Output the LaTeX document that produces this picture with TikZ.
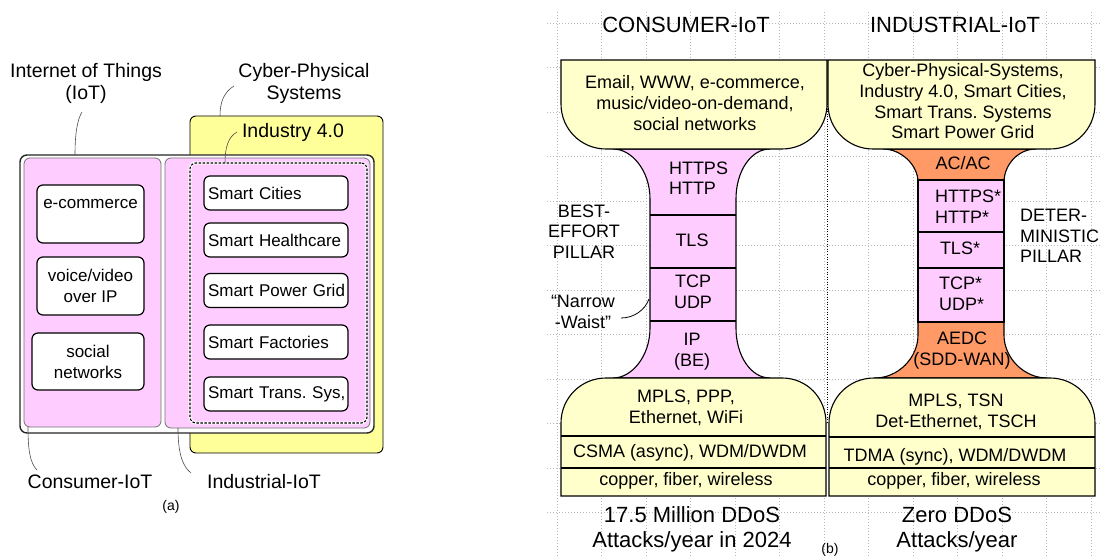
\documentclass[tikz,border=0pt]{standalone}
\usepackage{fontspec}
\setmainfont{Liberation Sans}
\frenchspacing
\definecolor{cyellow}{RGB}{255,255,204}
\definecolor{cpsyellow}{RGB}{255,255,153}
\definecolor{cpink}{RGB}{255,204,255}
\definecolor{corange}{RGB}{255,153,102}
\definecolor{gridgray}{RGB}{185,185,185}
\newcommand{\szS}{\fontsize{17}{21}\selectfont}
\newcommand{\szM}{\fontsize{18}{20.7}\selectfont}
\newcommand{\szL}{\fontsize{19.5}{22}\selectfont}
\newcommand{\szXL}{\fontsize{22}{25}\selectfont}
\newcommand{\szT}{\fontsize{14}{16}\selectfont}
\begin{document}
\begin{tikzpicture}[x=1pt,y=-1pt,
  every node/.style={inner sep=0pt,outer sep=0pt},
  lab/.style={anchor=base,align=center},
  labl/.style={anchor=base west,align=left},
  whitebox/.style={draw=black,line width=1.2pt,fill=white,rounded corners=6pt},
  smartbox/.style={whitebox,minimum width=144pt,minimum height=34pt,text width=136pt,inner xsep=4pt,align=left,font=\szS},
  pinkbox/.style={draw=black!55,line width=0.8pt,fill=cpink,rounded corners=6pt},
  leader/.style={draw=black!70,line width=0.6pt},
  outline/.style={draw=black,line width=1.1pt},
  gridline/.style={draw=gridgray,line width=0.7pt,dash pattern=on 1pt off 2pt},
]
\useasboundingbox (0,0) rectangle (1101,556);

% ---------------- (a) ----------------
\node[draw=black,line width=0.9pt,fill=cpsyellow,rounded corners=6pt,minimum width=193,minimum height=337] (cpsbox) at (286.5,284.5) {};
\node[whitebox,line width=1.4pt,draw=black!85,rounded corners=7pt,minimum width=354,minimum height=278] (iotbox) at (197,294) {};
\node[pinkbox,minimum width=137,minimum height=269] (cbox) at (92.5,292.5) {};
\node[pinkbox,minimum width=205,minimum height=270] (ibox) at (267.5,293) {};
\node[draw=black,line width=1.1pt,dash pattern=on 2.5pt off 1.5pt,preaction={draw=white,line width=2.8pt,solid},rounded corners=6pt,minimum width=177,minimum height=260] (i40box) at (278.5,293) {};

\node[smartbox] (sc) at (276,193) {\mbox{Smart Cities}};
\node[smartbox] (sh) at (276,240) {\mbox{Smart Healthcare}};
\node[smartbox] (sp) at (276,290.5) {\mbox{Smart Power Grid}};
\node[smartbox] (sf) at (276,342) {\mbox{Smart Factories}};
\node[smartbox] (st) at (276,394) {\mbox{Smart Trans. Sys,}};

\node[whitebox,font=\szS,minimum width=107,text height=24,text depth=34,anchor=base] (ecom) at (90.5,209) {e-commerce};
\node[whitebox,font=\szS,minimum width=107,minimum height=58,align=center] (voip) at (90.5,286) {voice/video\\over IP};
\node[whitebox,font=\szS,minimum width=112,minimum height=57,align=center] (soc) at (88,361.5) {social\\networks};

\node[lab,font=\szL] (iotlab) at (86,100) {Internet of Things\\(IoT)};
\node[lab,font=\szL] (cpslab) at (304,100) {Cyber-Physical\\Systems};
\node[lab,font=\szL] (i40lab) at (293,138) {Industry 4.0};
\node[lab,font=\szL] (clab) at (90,488) {Consumer-IoT};
\node[lab,font=\szL] (ilab) at (264,488) {Industrial-IoT};
\node[lab,font=\szT] (alab) at (171,510) {(a)};

\coordinate (iotA) at (82,112);   \coordinate (iotB) at (75,155);
\coordinate (cpsA) at (234,86);   \coordinate (cpsB) at (220,116);
\coordinate (i40A) at (237,132);  \coordinate (i40B) at (225,163);
\coordinate (cA) at (28,427);     \coordinate (cB) at (37,470);
\coordinate (iA) at (178,428);    \coordinate (iB) at (191,473);
\draw[leader] (iotA) .. controls (77,120) and (75,135) .. (iotB);
\draw[leader] (cpsA) .. controls (224,92) and (220,102) .. (cpsB);
\draw[leader] (i40A) .. controls (228,137) and (225,148) .. (i40B);
\draw[leader] (cA) .. controls (28,450) and (30,463) .. (cB);
\draw[leader] (iA) .. controls (178,452) and (182,466) .. (iB);

% ---------------- (b) ----------------
\foreach \gx in {557,601.5,...,1092} \draw[gridline] (\gx,12) -- (\gx,556);
\foreach \gy in {23,67.5,...,556} \draw[gridline] (547,\gy) -- (1101,\gy);

\draw[black,line width=0.8pt,dash pattern=on 1pt off 1.5pt] (827.5,104) -- (827.5,423);

% consumer neck
\draw[outline,fill=cpink] (613,149) -- (770,149) .. controls (751,149) and (736,171) .. (736,199)
  -- (736,328) .. controls (736,356) and (751,378) .. (770,378) -- (613,378)
  .. controls (632,378) and (650,356) .. (650,328) -- (650,199)
  .. controls (650,171) and (632,149) .. (613,149) -- cycle;
\draw[outline] (650,215) -- (736,215) (650,268) -- (736,268) (650,321) -- (736,321);
% consumer top
\draw[outline,fill=cyellow] (561,60) -- (827,60) -- (827,104) .. controls (827,129) and (807,149) .. (782,149)
  -- (606,149) .. controls (581,149) and (561,129) .. (561,104) -- cycle;
% consumer bottom
\draw[outline,fill=cyellow] (561,496) -- (561,423) .. controls (561,398) and (581,378) .. (606,378)
  -- (782,378) .. controls (807,378) and (826,398) .. (826,423) -- (826,496) -- cycle;
\draw[outline] (561,436) -- (826,436) (561,468) -- (826,468);

% industrial neck
\draw[outline,fill=corange] (883,149) -- (1036,149) .. controls (1018,149) and (1004,165) .. (1004,182)
  -- (1004,335) .. controls (1004,358) and (1024,378) .. (1047,378) -- (875,378)
  .. controls (898,378) and (918,358) .. (918,335) -- (918,182)
  .. controls (918,165) and (901,149) .. (883,149) -- cycle;
\draw[outline,fill=cpink] (918,180) rectangle (1004,322);
\draw[outline] (918,232) -- (1004,232) (918,268) -- (1004,268);
% industrial top
\draw[outline,fill=cyellow] (828,60) -- (1095,60) -- (1095,104) .. controls (1095,129) and (1075,149) .. (1050,149)
  -- (873,149) .. controls (848,149) and (828,129) .. (828,104) -- cycle;
% industrial bottom
\draw[outline,fill=cyellow] (829,496) -- (829,423) .. controls (829,398) and (849,378) .. (874,378)
  -- (1050,378) .. controls (1075,378) and (1095,398) .. (1095,423) -- (1095,496) -- cycle;
\draw[outline] (829,437) -- (1095,437) (829,468) -- (1095,468);

% texts consumer
\node[lab,font=\szXL] (ctitle) at (686,33) {CONSUMER-IoT};
\node[lab,font=\szM] (capps) at (695,130.4) {Email, WWW, e-commerce,\\music/video-on-demand,\\social networks};
\node[labl,font=\szM] (chttp) at (669,195) {HTTPS\\HTTP};
\node[lab,font=\szM] (ctls) at (692,247) {TLS};
\node[lab,font=\szM] (ctcp) at (693,308.5) {TCP\\UDP};
\node[lab,font=\szM] (cip) at (692,366) {IP\\(BE)};
\node[lab,font=\szM] (best) at (584,258.4) {BEST-\\EFFORT\\PILLAR};
\node[lab,font=\szM] (narrow) at (583,328) {“Narrow\\-Waist”};
\coordinate (nwA) at (621,318); \coordinate (nwB) at (649,299);
\draw[leader,draw=black,line width=0.8pt] (nwA) .. controls (634,318) and (645,310) .. (nwB);
\node[lab,font=\szM] (cmpls) at (686,423) {MPLS, PPP,\\Ethernet, WiFi};
\node[lab,font=\szM] (ccsma) at (690,457) {CSMA (async), WDM/DWDM};
\node[lab,font=\szM] (ccop) at (686,485) {copper, fiber, wireless};
\node[lab,font=\szXL] (cddos) at (692,547) {17.5 Million DDoS\\Attacks/year in 2024};

% texts industrial
\node[lab,font=\szXL] (ititle) at (955,33) {INDUSTRIAL-IoT};
\node[lab,font=\szM] (iapps) at (963,139) {Cyber-Physical-Systems,\\Industry 4.0, Smart Cities,\\Smart Trans. Systems\\Smart Power Grid};
\node[lab,font=\szM] (iacac) at (963,170) {AC/AC};
\node[labl,font=\szM] (ihttp) at (935,223.5) {HTTPS*\\HTTP*};
\node[lab,font=\szM] (itls) at (960,255) {TLS*};
\node[labl,font=\szM] (itcp) at (939,310.5) {TCP*\\UDP*};
\node[lab,font=\szM] (iaedc) at (962,365.5) {AEDC\\(SDD-WAN)};
\node[labl,font=\szM] (idet) at (1020,263) {DETER-\\MINISTIC\\PILLAR};
\node[lab,font=\szM] (impls) at (956,427.5) {MPLS, TSN\\Det-Ethernet, TSCH};
\node[lab,font=\szM] (itdma) at (955,461) {TDMA (sync), WDM/DWDM};
\node[lab,font=\szM] (icop) at (954,485) {copper, fiber, wireless};
\node[lab,font=\szXL] (iddos) at (957,547) {Zero DDoS\\Attacks/year};
\node[lab,font=\szT] (blab) at (830,553) {(b)};
\end{tikzpicture}
\end{document}
